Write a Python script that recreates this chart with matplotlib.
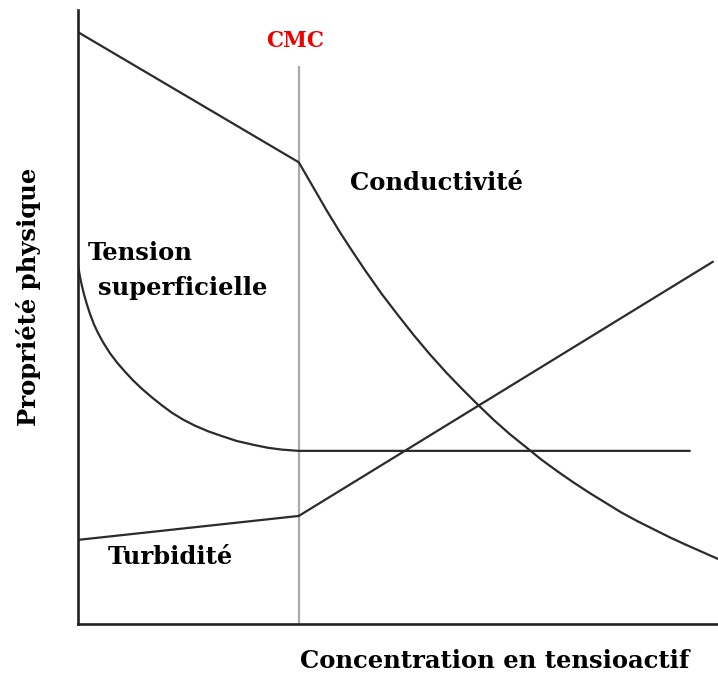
import matplotlib
matplotlib.use("Agg")
import matplotlib.pyplot as plt

# concentration axis runs 0..100, property axis 0..100 (arbitrary units)
cmc = 34.5

cond_x = [0, 34.5, 36, 37.5, 39, 41, 43, 45, 47.5, 50, 52.5, 55, 57.5, 60, 62.5, 65,
          67.5, 70, 72.5, 75, 77.5, 80, 82.5, 85, 87.5, 90, 92.5, 95, 97.5, 100]
cond_y = [96.4, 75.2, 72.5, 69.8, 67.1, 63.7, 60.5, 57.4, 53.7, 50.3, 47.0, 43.9, 41.0, 38.3, 35.7, 33.2,
          30.9, 28.8, 26.7, 24.8, 23.0, 21.3, 19.7, 18.1, 16.7, 15.4, 14.1, 12.9, 11.75, 10.6]

tens_x = [0, 0.16, 0.31, 0.63, 0.94, 1.41, 1.88, 2.5, 3.13, 3.91, 5.0, 6.09, 7.34, 8.59, 10.0,
          11.56, 13.13, 14.69, 16.41, 18.28, 20.31, 22.5, 24.84, 27.34, 29.69, 31.88, 34.5, 95.6]
tens_y = [58.5, 57.5, 56.6, 55.0, 53.7, 52.0, 50.5, 48.8, 47.4, 45.9, 44.1, 42.6, 41.1, 39.7, 38.3,
          36.9, 35.6, 34.4, 33.3, 32.3, 31.4, 30.6, 29.8, 29.2, 28.7, 28.4, 28.2, 28.2]

turb_x = [0, 34.5, 99.2]
turb_y = [13.7, 17.6, 59.0]

serif = "DejaVu Serif"

fig = plt.figure(figsize=(7.18, 6.73), dpi=100)
ax = fig.add_axes([0.1086, 0.0728, 0.8914, 0.9123])
ax.set_xlim(0, 100)
ax.set_ylim(0, 100)

ax.plot([cmc, cmc], [0, 90.7], color="#a9a9b1", lw=1.6, zorder=1)
for xs, ys in [(cond_x, cond_y), (tens_x, tens_y), (turb_x, turb_y)]:
    ax.plot(xs, ys, color="#2b2b2b", lw=1.6, solid_joinstyle="round",
            solid_capstyle="round")

for side in ["top", "right"]:
    ax.spines[side].set_visible(False)
for side in ["left", "bottom"]:
    ax.spines[side].set_linewidth(1.9)
    ax.spines[side].set_color("#222222")
ax.set_xticks([])
ax.set_yticks([])

kw = dict(family=serif, weight="bold", fontsize=17.5)
ax.text(33.9, 95.0, "CMC", color="#ee0000", ha="center", va="center",
        family=serif, weight="bold", fontsize=15.5)
ax.text(42.5, 71.8, "Conductivité", ha="left", va="center", **kw)
ax.text(1.6, 60.4, "Tension", ha="left", va="center", **kw)
ax.text(3.1, 54.7, "superficielle", ha="left", va="center", **kw)
ax.text(4.7, 10.9, "Turbidité", ha="left", va="center", **kw)

fig.text(29 / 718, 1 - 297 / 673, "Propriété physique", rotation=90,
         ha="center", va="center", **kw)
fig.text(495 / 718, 1 - 661 / 673, "Concentration en tensioactif",
         ha="center", va="center", **kw)

fig.savefig("out.png", dpi=100)
